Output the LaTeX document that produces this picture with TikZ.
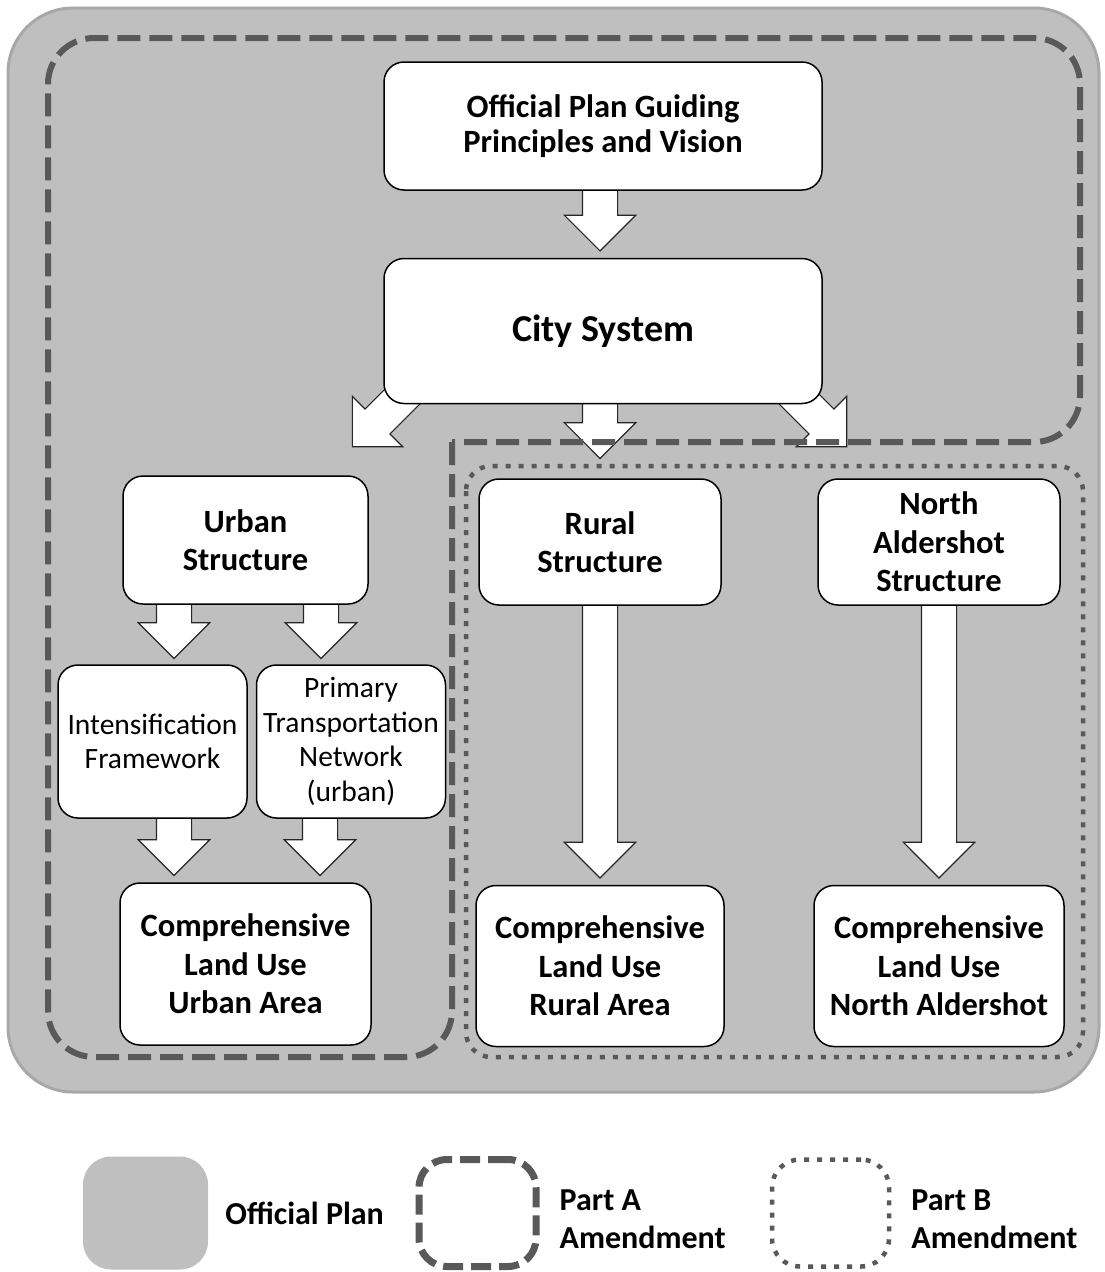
\documentclass[tikz,border=0pt]{standalone}
\usepackage{fontspec}
\setmainfont{Carlito}
\usepackage{tikz}
\usetikzlibrary{shapes,arrows,positioning,calc}
\definecolor{plangray}{HTML}{BFBFBF}
\definecolor{planedge}{HTML}{A8A8A8}
\definecolor{amendgray}{HTML}{595959}
\tikzstyle{box} = [draw, rectangle, rounded corners=20pt, fill=white,
    line width=1.5pt, align=center, inner sep=0pt,
    font=\bfseries\fontsize{32.5}{38.5}\selectfont]
\tikzstyle{thinbox} = [box, font=\fontsize{29.5}{34.5}\selectfont]
\tikzstyle{bigarrow} = [draw=black!85, fill=white, single arrow, line width=1.2pt,
    text height=34pt, text depth=0pt, minimum width=70pt,
    single arrow head extend=18pt, inner sep=0pt]
\tikzstyle{parta} = [draw=amendgray, line width=6pt, dash pattern=on 23pt off 9pt]
\tikzstyle{partb} = [draw=amendgray, line width=4.5pt, dash pattern=on 5pt off 8pt]
\tikzstyle{legendtext} = [font=\bfseries\fontsize{32}{38.5}\selectfont, align=left, inner sep=0pt]
\pgfdeclarelayer{background}
\pgfdeclarelayer{arrows}
\pgfsetlayers{background,arrows,main}

\begin{document}
\begin{tikzpicture}[x=1pt, y=-1pt]
		\useasboundingbox (0,0) rectangle (1105,1272);
		
		% boxes
		\node[box, minimum width=438pt, minimum height=128pt,
			font=\bfseries\fontsize{32.5}{35}\selectfont] (guide) at (603,126) {Official Plan Guiding\\Principles and Vision};
		\node[box, minimum width=438pt, minimum height=145pt, below=67pt of guide,
			font=\bfseries\fontsize{38}{44}\selectfont] (city) {City System};
		\node[box, minimum width=245pt, minimum height=128pt] (urban) at (245.5,540) {Urban\\Structure};
		\node[thinbox, minimum width=189pt, minimum height=153pt] (intens) at (152.5,741.5) {Intensification\\Framework};
		\node[thinbox, minimum width=189pt, minimum height=153pt, right=8pt of intens] (primary) {Primary\\Transportation\\Network\\(urban)};
		\node[box, minimum width=251pt, minimum height=162pt] (compU) at (245.5,964) {Comprehensive\\Land Use\\Urban Area};
		\node[box, minimum width=242pt, minimum height=126pt] (rural) at (600,542) {Rural\\Structure};
		\node[box, minimum width=248pt, minimum height=161pt, below=279pt of rural] (compR) {Comprehensive\\Land Use\\Rural Area};
		\node[box, minimum width=242pt, minimum height=126pt] (north) at (939,542) {North\\Aldershot\\Structure};
		\node[box, minimum width=250pt, minimum height=161pt, below=279pt of north] (compN) {Comprehensive\\Land Use\\North Aldershot};
		
		% block arrows
		\begin{pgfonlayer}{arrows}
		\node[bigarrow, rotate=-90, minimum height=65pt, anchor=tip] (a1) at ([xshift=-3pt,yshift=6pt]city.north) {};
		\node[bigarrow, rotate=-135, minimum height=99pt, anchor=tip] (a2) at ([xshift=-17pt,yshift=28pt]urban.north east) {};
		\node[bigarrow, rotate=-90, minimum height=62pt, anchor=tip] (a3) at ([yshift=19pt]rural.north) {};
		\node[bigarrow, rotate=-45, minimum height=99pt, anchor=tip] (a4) at ([xshift=30pt,yshift=31pt]north.north west) {};
		\node[bigarrow, rotate=-90, minimum height=61pt, anchor=tip] (a5) at ([xshift=21.5pt,yshift=5pt]intens.north) {};
		\node[bigarrow, rotate=-90, minimum height=61pt, anchor=tip] (a6) at ([xshift=-30pt,yshift=5pt]primary.north) {};
		\node[bigarrow, rotate=-90, minimum height=63pt, anchor=tip] (a7) at ([xshift=-71.5pt,yshift=6pt]compU.north) {};
		\node[bigarrow, rotate=-90, minimum height=63pt, anchor=tip] (a8) at ([xshift=74.5pt,yshift=6pt]compU.north) {};
		\node[bigarrow, rotate=-90, minimum height=277pt, anchor=tip] (a9) at ([yshift=6pt]compR.north) {};
		\node[bigarrow, rotate=-90, minimum height=277pt, anchor=tip] (a10) at ([yshift=6pt]compN.north) {};
		\end{pgfonlayer}
		
		% official plan area
		\begin{pgfonlayer}{background}
		\draw[fill=plangray, draw=planedge, line width=3pt, rounded corners=65pt] (8,8) rectangle (1099,1092);
		\end{pgfonlayer}
		
		% amendment outlines
		\draw[parta, rounded corners=46pt] (452,442) -- (452,1057) -- (48,1057) -- (48,38) -- (1080,38) -- (1080,442) -- (452,442);
		\draw[partb, rounded corners=25pt] (466,466) rectangle (1083,1057);
		
		% legend
		\node[fill=plangray, rounded corners=28pt, minimum width=125pt, minimum height=113pt] (lgplan) at (145.5,1213) {};
		\node[legendtext, right=17pt of lgplan] (lgplantext) {Official Plan};
		\node[parta, line width=7pt, dash pattern=on 20pt off 8pt, rounded corners=28pt,
			minimum width=117pt, minimum height=107pt] (lgparta) at (477.5,1213) {};
		\node[legendtext, right=20pt of lgparta, yshift=-6pt] (lgpartatext) {Part A\\Amendment};
		\node[partb, line width=4.5pt, rounded corners=28pt,
			minimum width=117pt, minimum height=107pt] (lgpartb) at (830.5,1213) {};
		\node[legendtext, right=20pt of lgpartb, yshift=-6pt] (lgpartbtext) {Part B\\Amendment};
	\end{tikzpicture}
\end{document}
